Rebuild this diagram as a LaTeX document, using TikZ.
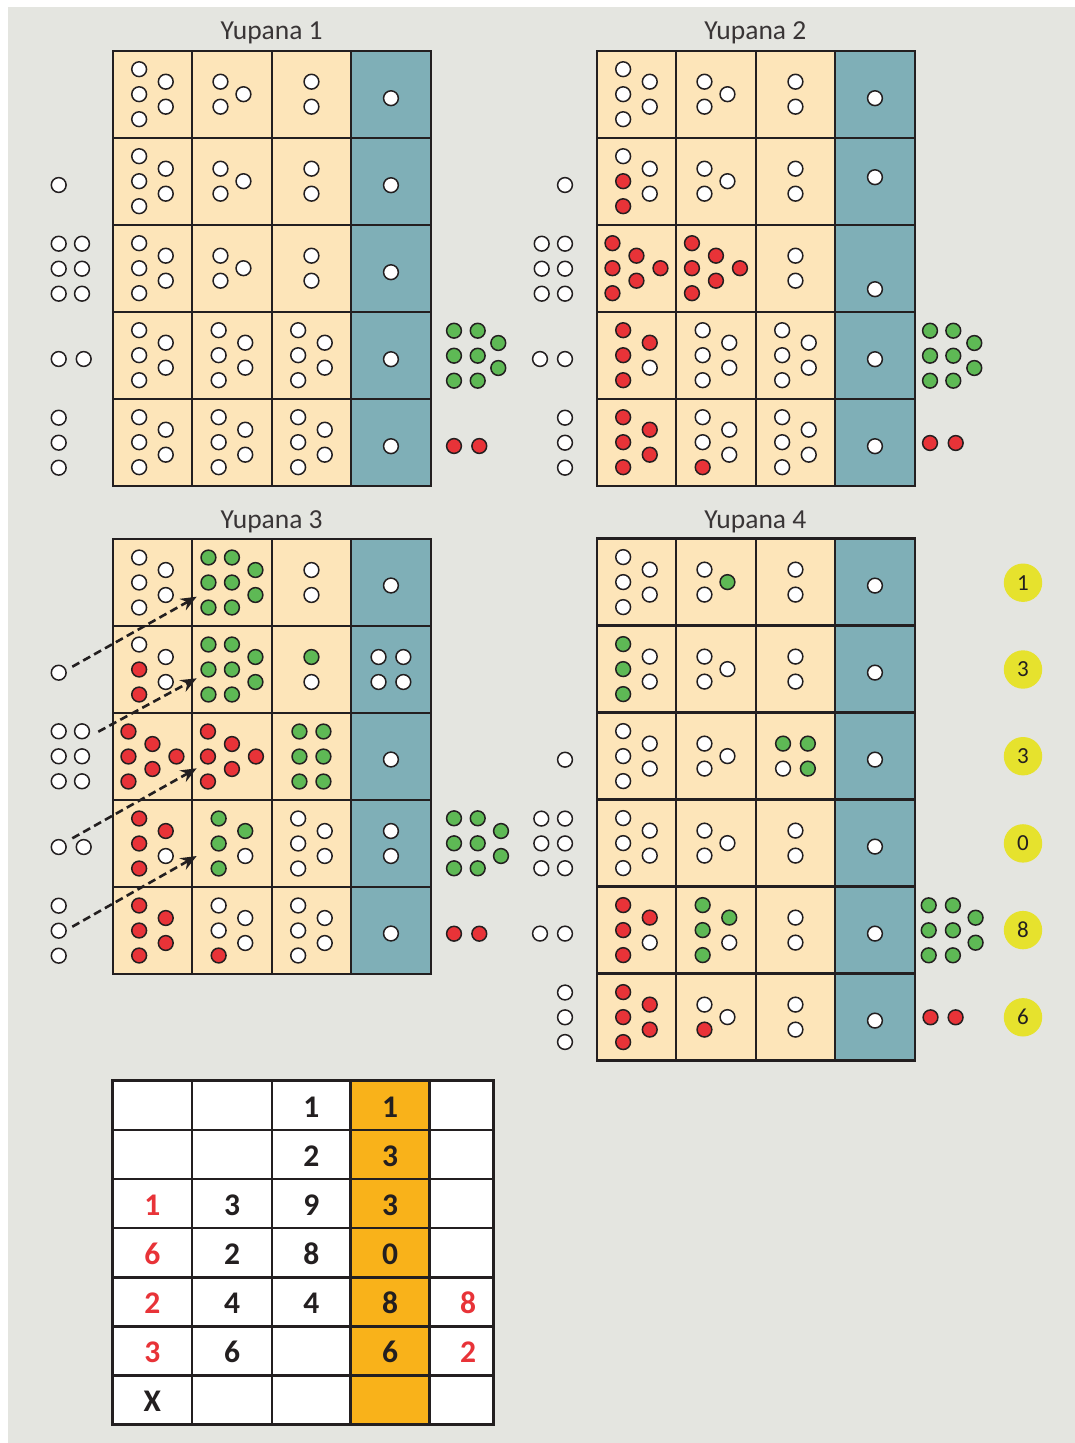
\documentclass[tikz,border=0pt]{standalone}
\usepackage{fontspec}
\setmainfont{Carlito}
\usetikzlibrary{arrows.meta}
\definecolor{bgc}{RGB}{228,229,224}
\definecolor{beigec}{RGB}{253,229,185}
\definecolor{tealc}{RGB}{127,175,183}
\definecolor{lnc}{RGB}{35,31,32}
\definecolor{bR}{RGB}{232,51,56}
\definecolor{bG}{RGB}{94,185,85}
\definecolor{bW}{RGB}{255,255,255}
\definecolor{ylw}{RGB}{230,226,45}
\definecolor{orgc}{RGB}{249,178,26}
\definecolor{tred}{RGB}{232,51,56}
\tikzset{
  bead/.style={draw=lnc, line width=1.5pt},
  gridl/.style={draw=lnc, line width=2.4pt},
  tgridl/.style={draw=lnc, line width=2.6pt},
  ttl/.style={anchor=base, text=lnc!90, font=\fontsize{27.5}{31}\selectfont},
  tnum/.style={anchor=base, text=lnc, font=\fontsize{31.5}{35}\selectfont\bfseries},
  trnum/.style={tnum, text=tred},
  ycirc/.style={circle, fill=ylw, minimum size=38.4pt, inner sep=0pt, text=lnc, font=\fontsize{23}{27}\selectfont},
  darr/.style={draw=lnc, line width=2.6pt, dash pattern=on 8pt off 4.5pt, -{Stealth[length=16pt,width=13pt]}}
}
\newcommand{\Bd}[3]{\filldraw[bead,fill=#3] (#1,#2) circle[radius=7.4pt];}
\newcommand{\BFive}[7]{\begin{scope}[shift={(#1,#2)}]\Bd{-13.3}{-25}{#3}\Bd{-13.3}{0}{#4}\Bd{-13.3}{25}{#5}\Bd{13.3}{-12.5}{#6}\Bd{13.3}{12.5}{#7}\end{scope}}
\newcommand{\BThree}[5]{\begin{scope}[shift={(#1,#2)}]\Bd{-11.5}{-12.5}{#3}\Bd{-11.5}{12.5}{#4}\Bd{11.5}{0}{#5}\end{scope}}
\newcommand{\BTwo}[4]{\begin{scope}[shift={(#1,#2)}]\Bd{0}{-12.5}{#3}\Bd{0}{12.5}{#4}\end{scope}}
\newcommand{\BSix}[3]{\begin{scope}[shift={(#1,#2)}]\Bd{-24}{-25}{#3}\Bd{-24}{0}{#3}\Bd{-24}{25}{#3}\Bd{0}{-12.5}{#3}\Bd{0}{12.5}{#3}\Bd{24}{0}{#3}\end{scope}}
\newcommand{\BEight}[3]{\begin{scope}[shift={(#1,#2)}]\Bd{-23.5}{-25}{#3}\Bd{-23.5}{0}{#3}\Bd{-23.5}{25}{#3}\Bd{0}{-25}{#3}\Bd{0}{0}{#3}\Bd{0}{25}{#3}\Bd{23.5}{-12.5}{#3}\Bd{23.5}{12.5}{#3}\end{scope}}
\newcommand{\BSixG}[3]{\begin{scope}[shift={(#1,#2)}]\Bd{-12}{-25}{#3}\Bd{-12}{0}{#3}\Bd{-12}{25}{#3}\Bd{12}{-25}{#3}\Bd{12}{0}{#3}\Bd{12}{25}{#3}\end{scope}}
\newcommand{\BFour}[6]{\begin{scope}[shift={(#1,#2)}]\Bd{-12.4}{-12.5}{#3}\Bd{12.4}{-12.5}{#4}\Bd{-12.4}{12.5}{#5}\Bd{12.4}{12.5}{#6}\end{scope}}
\newcommand{\Yup}[3]{%
  \fill[beigec] (#1,#2) rectangle ({#1+238.5},{#2+87*#3});
  \fill[tealc] ({#1+238.5},#2) rectangle ({#1+318},{#2+87*#3});
  \foreach \i in {1,2,3} \draw[gridl] ({#1+79.5*\i},#2) -- ({#1+79.5*\i},{#2+87*#3});
  \foreach \j in {1,...,#3} \draw[gridl] (#1,{#2+87*\j}) -- ({#1+318},{#2+87*\j});
  \draw[gridl] (#1,#2) rectangle ({#1+318},{#2+87*#3});
}
\newcommand{\GreenGroup}[5]{% x1 x2 x3 ytop yrtop
  \Bd{#1}{#4}{bG}\Bd{#2}{#4}{bG}\Bd{#1}{#4+25}{bG}\Bd{#2}{#4+25}{bG}\Bd{#1}{#4+50}{bG}\Bd{#2}{#4+50}{bG}\Bd{#3}{#5}{bG}\Bd{#3}{#5+25}{bG}}
\begin{document}
\begin{tikzpicture}[x=1pt,y=-1pt]
\useasboundingbox (0,0) rectangle (1075,1443);
\fill[white] (0,0) rectangle (1075,1443);
\fill[bgc] (8,7) rectangle (1075,1443);

% titles
\node[ttl] (t1) at (271.7,39.5) {Yupana 1};
\node[ttl] (t2) at (755.3,39.5) {Yupana 2};
\node[ttl] (t3) at (271.7,528.5) {Yupana 3};
\node[ttl] (t4) at (755.3,528.5) {Yupana 4};

% grids
\Yup{112.7}{50.7}{5}
\Yup{596.7}{50.7}{5}
\Yup{112.7}{539}{5}
\Yup{596.7}{538.6}{6}

% ---------------- Yupana 1
\foreach \cy in {94.2,181.2,268.2}{
  \BFive{152.45}{\cy}{bW}{bW}{bW}{bW}{bW}
  \BThree{231.95}{\cy}{bW}{bW}{bW}
  \BTwo{311.45}{\cy}{bW}{bW}
}
\foreach \cy in {355.2,442.2}{
  \BFive{152.45}{\cy}{bW}{bW}{bW}{bW}{bW}
  \BFive{231.95}{\cy}{bW}{bW}{bW}{bW}{bW}
  \BFive{311.45}{\cy}{bW}{bW}{bW}{bW}{bW}
}
\foreach \cy in {98.2,185.2,272.2,359.2,446.2}{\Bd{390.95}{\cy}{bW}}
% left side
\Bd{58.7}{185}{bW}
\foreach \yy in {243.7,268.7,293.7}{\Bd{58.7}{\yy}{bW}\Bd{82}{\yy}{bW}}
\Bd{58.7}{359}{bW}\Bd{83.7}{359}{bW}
\foreach \yy in {417.7,442.7,467.7}{\Bd{58.7}{\yy}{bW}}
% right side
\GreenGroup{454}{477.7}{498.3}{330.7}{343}
\Bd{454}{446}{bR}\Bd{479.3}{446}{bR}

% ---------------- Yupana 2
\BFive{636.45}{94.2}{bW}{bW}{bW}{bW}{bW}
\BThree{715.95}{94.2}{bW}{bW}{bW}
\BTwo{795.45}{94.2}{bW}{bW}
\BFive{636.45}{181.2}{bW}{bR}{bR}{bW}{bW}
\BThree{715.95}{181.2}{bW}{bW}{bW}
\BTwo{795.45}{181.2}{bW}{bW}
\BSix{636.45}{268.2}{bR}
\BSix{715.95}{268.2}{bR}
\BTwo{795.45}{268.2}{bW}{bW}
\BFive{636.45}{355.2}{bR}{bR}{bR}{bR}{bW}
\BFive{715.95}{355.2}{bW}{bW}{bW}{bW}{bW}
\BFive{795.45}{355.2}{bW}{bW}{bW}{bW}{bW}
\BFive{636.45}{442.2}{bR}{bR}{bR}{bR}{bR}
\BFive{715.95}{442.2}{bW}{bW}{bR}{bW}{bW}
\BFive{795.45}{442.2}{bW}{bW}{bW}{bW}{bW}
\foreach \cy in {98.2,177.2,289.2,359.2,446.2}{\Bd{874.95}{\cy}{bW}}
% left side
\Bd{565}{185}{bW}
\foreach \yy in {243.7,268.7,293.7}{\Bd{541.7}{\yy}{bW}\Bd{565}{\yy}{bW}}
\Bd{540}{359}{bW}\Bd{565}{359}{bW}
\foreach \yy in {417.7,442.7,467.7}{\Bd{565}{\yy}{bW}}
% right side
\GreenGroup{930}{953.3}{974.3}{330.7}{343}
\Bd{930}{443}{bR}\Bd{955.7}{443}{bR}

% ---------------- Yupana 3
\BFive{152.45}{582.5}{bW}{bW}{bW}{bW}{bW}
\BEight{231.95}{582.5}{bG}
\BTwo{311.45}{582.5}{bW}{bW}
\Bd{390.95}{585.5}{bW}
\BFive{152.45}{669.5}{bW}{bR}{bR}{bW}{bW}
\BEight{231.95}{669.5}{bG}
\BTwo{311.45}{669.5}{bG}{bW}
\BFour{390.95}{669.5}{bW}{bW}{bW}{bW}
\BSix{152.45}{756.5}{bR}
\BSix{231.95}{756.5}{bR}
\BSixG{311.45}{756.5}{bG}
\Bd{390.95}{759.5}{bW}
\BFive{152.45}{843.5}{bR}{bR}{bR}{bR}{bW}
\BFive{231.95}{843.5}{bG}{bG}{bG}{bG}{bW}
\BFive{311.45}{843.5}{bW}{bW}{bW}{bW}{bW}
\BTwo{390.95}{843.5}{bW}{bW}
\BFive{152.45}{930.5}{bR}{bR}{bR}{bR}{bR}
\BFive{231.95}{930.5}{bW}{bW}{bR}{bW}{bW}
\BFive{311.45}{930.5}{bW}{bW}{bW}{bW}{bW}
\Bd{390.95}{933.5}{bW}
% left side
\Bd{58.7}{672.7}{bW}
\foreach \yy in {731.3,756.3,781.3}{\Bd{58.7}{\yy}{bW}\Bd{82}{\yy}{bW}}
\Bd{58.7}{847}{bW}\Bd{83.7}{847}{bW}
\foreach \yy in {905.7,930.7,955.7}{\Bd{58.7}{\yy}{bW}}
% right side
\GreenGroup{454}{477.7}{501}{818.3}{831}
\Bd{454}{933.7}{bR}\Bd{479.3}{933.7}{bR}
% arrows
\coordinate (a1s) at (72.3,666.7);  \coordinate (a1e) at (196.7,596.7);
\coordinate (a2s) at (98.3,731.7);  \coordinate (a2e) at (196.7,678.3);
\coordinate (a3s) at (72.3,838.3);  \coordinate (a3e) at (196.7,768.3);
\coordinate (a4s) at (72.3,926.7);  \coordinate (a4e) at (196.7,856);
\draw[darr] (a1s) -- (a1e);
\draw[darr] (a2s) -- (a2e);
\draw[darr] (a3s) -- (a3e);
\draw[darr] (a4s) -- (a4e);

% ---------------- Yupana 4
\BFive{636.45}{582.1}{bW}{bW}{bW}{bW}{bW}
\BThree{715.95}{582.1}{bW}{bW}{bG}
\BTwo{795.45}{582.1}{bW}{bW}
\BFive{636.45}{669.1}{bG}{bG}{bG}{bW}{bW}
\BThree{715.95}{669.1}{bW}{bW}{bW}
\BTwo{795.45}{669.1}{bW}{bW}
\BFive{636.45}{756.1}{bW}{bW}{bW}{bW}{bW}
\BThree{715.95}{756.1}{bW}{bW}{bW}
\BFour{795.45}{756.1}{bG}{bG}{bW}{bG}
\BFive{636.45}{843.1}{bW}{bW}{bW}{bW}{bW}
\BThree{715.95}{843.1}{bW}{bW}{bW}
\BTwo{795.45}{843.1}{bW}{bW}
\BFive{636.45}{930.1}{bR}{bR}{bR}{bR}{bW}
\BFive{715.95}{930.1}{bG}{bG}{bG}{bG}{bW}
\BTwo{795.45}{930.1}{bW}{bW}
\BFive{636.45}{1017.1}{bR}{bR}{bR}{bR}{bR}
\BThree{715.95}{1017.1}{bW}{bR}{bW}
\BTwo{795.45}{1017.1}{bW}{bW}
\foreach \cy in {585.6,672.6,759.6,846.6,933.6,1020.6}{\Bd{874.95}{\cy}{bW}}
% left side
\Bd{565}{759.7}{bW}
\foreach \yy in {818.6,843.4,868.2}{\Bd{541.3}{\yy}{bW}\Bd{565}{\yy}{bW}}
\Bd{540}{933.6}{bW}\Bd{565}{933.6}{bW}
\foreach \yy in {992.5,1017.3,1042}{\Bd{565}{\yy}{bW}}
% right side
\GreenGroup{928.7}{952.9}{975.6}{905.3}{917.7}
\Bd{930.5}{1017.3}{bR}\Bd{955.6}{1017.3}{bR}
% yellow result circles
\node[ycirc] (y1) at (1023,582.7) {1};
\node[ycirc] (y2) at (1023,669.5) {3};
\node[ycirc] (y3) at (1023,756.2) {3};
\node[ycirc] (y4) at (1023,843.4) {0};
\node[ycirc] (y5) at (1023,930.1) {8};
\node[ycirc] (y6) at (1023,1017.3) {6};

% ---------------- table
\fill[white] (112.7,1080.7) rectangle (493.3,1424.7);
\fill[orgc] (350.7,1080.7) rectangle (429.7,1424.7);
\foreach \xx in {192,272,350.7,429.7} \draw[tgridl] (\xx,1080.7) -- (\xx,1424.7);
\foreach \k in {1,...,6} \draw[tgridl] (112.7,{1080.7+49.14*\k}) -- (493.3,{1080.7+49.14*\k});
\draw[tgridl] (112.7,1080.7) rectangle (493.3,1424.7);
% row 0
\node[tnum] (n02) at (311.4,1117.0) {1};
\node[tnum] (n03) at (390.2,1117.0) {1};
% row 1
\node[tnum] (n12) at (311.4,1166.1) {2};
\node[tnum] (n13) at (390.2,1166.1) {3};
% row 2
\node[trnum] (n20) at (152.4,1215.3) {1};
\node[tnum] (n21) at (232,1215.3) {3};
\node[tnum] (n22) at (311.4,1215.3) {9};
\node[tnum] (n23) at (390.2,1215.3) {3};
% row 3
\node[trnum] (n30) at (152.4,1264.4) {6};
\node[tnum] (n31) at (232,1264.4) {2};
\node[tnum] (n32) at (311.4,1264.4) {8};
\node[tnum] (n33) at (390.2,1264.4) {0};
% row 4
\node[trnum] (n40) at (152.4,1313.6) {2};
\node[tnum] (n41) at (232,1313.6) {4};
\node[tnum] (n42) at (311.4,1313.6) {4};
\node[tnum] (n43) at (390.2,1313.6) {8};
\node[trnum] (n44) at (468,1313.6) {8};
% row 5
\node[trnum] (n50) at (152.4,1362.7) {3};
\node[tnum] (n51) at (232,1362.7) {6};
\node[tnum] (n53) at (390.2,1362.7) {6};
\node[trnum] (n54) at (468,1362.7) {2};
% row 6
\node[tnum] (n60) at (152.4,1411.8) {X};
\end{tikzpicture}
\end{document}
